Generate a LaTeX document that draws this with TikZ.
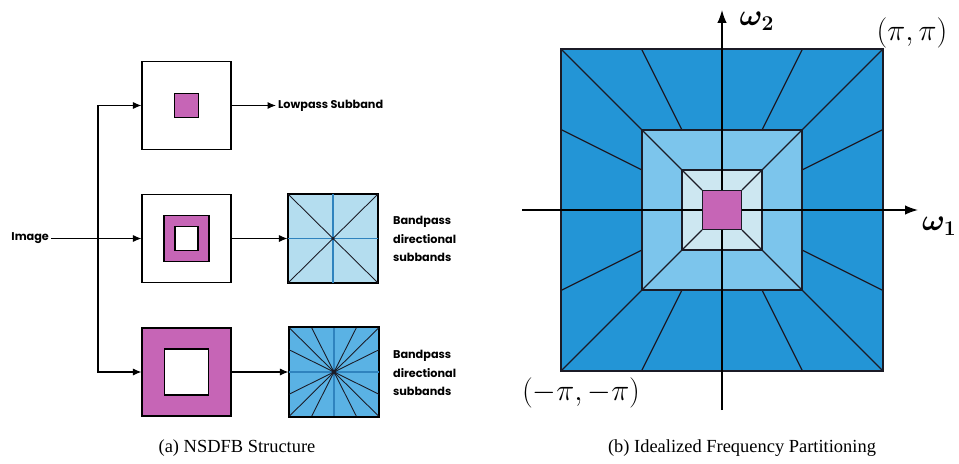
\documentclass[tikz,border=0pt]{standalone}
\usepackage{amsmath}
\usepackage{fontspec}
\setmainfont{Liberation Serif}
\newfontfamily\gothfont{Poppins}
\usetikzlibrary{positioning,arrows.meta}
\definecolor{passpink}{HTML}{C665B6}
\definecolor{outerblue}{HTML}{2395D6}
\definecolor{midblue}{HTML}{7CC5EC}
\definecolor{innerblue}{HTML}{CDE7F1}
\definecolor{dirlight}{HTML}{B4DDEF}
\definecolor{dirdeep}{HTML}{5AB2E4}
\definecolor{axisblue}{HTML}{2F83BE}
\definecolor{inkline}{HTML}{1B1B26}
\tikzset{
  flowarrow/.style={-{Latex[length=1.7mm,width=1.4mm]}, semithick},
  axisarrow/.style={-{Latex[length=2.6mm,width=1.9mm]}, thick},
  filtbox/.style={draw, semithick, minimum width=1.78cm, minimum height=1.76cm, inner sep=0pt},
  dirbox/.style={draw, semithick, minimum width=1.8cm, minimum height=1.78cm, inner sep=0pt},
  passband/.style={draw, semithick, fill=passpink, inner sep=0pt},
  hole/.style={draw, semithick, fill=white, inner sep=0pt},
  wedge/.style={inkline, line width=0.5pt},
  midaxis/.style={axisblue, line width=0.6pt},
  sublabel/.style={font=\gothfont\bfseries\fontsize{6.4}{10.6}\selectfont, align=left, inner sep=1pt},
  caption/.style={font=\fontsize{10.5}{12}\selectfont},
  axlabel/.style={font=\LARGE, inner sep=1pt}
}

\begin{document}
\begin{tikzpicture}[x=0.02cm, y=-0.02cm]
  \useasboundingbox (0,0) rectangle (959,463);
  % (a) filter bank
  \node[filtbox] (lowbox) at (186.5,105.5) {};
  \node[passband, minimum size=0.47cm] (lowsq) at (lowbox.center) {};
  \node[filtbox] (bandbox1) at (186.5,238.5) {};
  \node[passband, minimum width=0.9cm, minimum height=0.92cm] (ring1) at (bandbox1.center) {};
  \node[hole, minimum width=0.46cm, minimum height=0.48cm] (hole1) at (bandbox1.center) {};
  \node[filtbox, fill=passpink] (bandbox2) at (186.5,372) {};
  \node[hole, minimum width=0.88cm, minimum height=0.92cm] (hole2) at (bandbox2.center) {};

  \node[dirbox, fill=dirlight] (dir1) at (333,238.5) {};
  \node[dirbox, fill=dirdeep] (dir2) at (334,372) {};
  \draw[midaxis] (dir1.north) -- (dir1.south);
  \draw[midaxis] (dir1.west) -- (dir1.east);
  \foreach \dx/\dy in {1/1,1/-1,-1/1,-1/-1}
    \draw[wedge] (dir1.center) -- ++(\dx*45,\dy*44.5);
  \fill[inkline] (dir1.center) circle (1.6);
  \draw[midaxis] (dir2.north) -- (dir2.south);
  \draw[midaxis] (dir2.west) -- (dir2.east);
  \foreach \dx/\dy in {1/1,1/-1,-1/1,-1/-1,1/0.5,1/-0.5,-1/0.5,-1/-0.5,0.5/1,-0.5/1,0.5/-1,-0.5/-1}
    \draw[wedge] (dir2.center) -- ++(\dx*45,\dy*44.5);
  \fill[inkline] (dir2.center) circle (2.4);
  \draw[semithick] (dir1.north west) rectangle (dir1.south east);
  \draw[semithick] (dir2.north west) rectangle (dir2.south east);

  \node[sublabel, anchor=east] (imgtxt) at (51,238.5) {Image};
  \coordinate (split) at (98,238.5);
  \node[sublabel, anchor=west] (lowtxt) at (276,105.5) {Lowpass Subband};
  \node[sublabel, anchor=west] (bandtxt1) at (391,239) {Bandpass\\directional\\subbands};
  \node[sublabel, anchor=west] (bandtxt2) at (391,373) {Bandpass\\directional\\subbands};

  \draw[flowarrow] (imgtxt.east) -- (bandbox1.west);
  \draw[flowarrow] (split) |- (lowbox.west);
  \draw[flowarrow] (split) |- (bandbox2.west);
  \draw[flowarrow] (lowbox.east) -- (lowtxt.west);
  \draw[flowarrow] (bandbox1.east) -- (dir1.west);
  \draw[flowarrow] (bandbox2.east) -- (dir2.west);

  \node[caption] (capa) at (237,448) {(a) NSDFB Structure};

  % (b) frequency plane
  \begin{scope}[shift={(722,210)}]
    \fill[outerblue] (-161,-161) rectangle (161,161);
    \fill[midblue] (-80,-80) rectangle (80,80);
    \fill[innerblue] (-40,-40) rectangle (40,40);
    \foreach \dx/\dy in {1/1,1/-1,-1/1,-1/-1,1/0.5,1/-0.5,-1/0.5,-1/-0.5,0.5/1,-0.5/1,0.5/-1,-0.5/-1}
      \draw[wedge, line width=0.7pt] (\dx*80,\dy*80) -- (\dx*161,\dy*161);
    \foreach \dx/\dy in {1/1,1/-1,-1/1,-1/-1} {
      \draw[wedge, line width=0.7pt] (\dx*40,\dy*40) -- (\dx*80,\dy*80);
      \draw[wedge, line width=0.7pt] (\dx*20,\dy*20) -- (\dx*40,\dy*40);
    }
    \draw[inkline, thick] (-161,-161) rectangle (161,161);
    \draw[inkline, thick] (-80,-80) rectangle (80,80);
    \draw[inkline, thick] (-40,-40) rectangle (40,40);
    \draw[axisarrow] (-200,0) -- (196,0);
    \draw[axisarrow] (0,200) -- (0,-200);
    \node[passband, thick, draw=inkline, minimum size=0.78cm] (lowcell) at (0,0) {};
  \end{scope}
  \node[axlabel] (w2) at (757,21) {$\boldsymbol{\omega_2}$};
  \node[axlabel, anchor=west] (w1) at (920,226) {$\boldsymbol{\omega_1}$};
  \node[axlabel] (pipi) at (912,33) {$(\pi,\pi)$};
  \node[axlabel] (mpipi) at (581,393) {$(-\pi,-\pi)$};

  \node[caption] (capb) at (742,448) {(b) Idealized Frequency Partitioning};
\end{tikzpicture}
\end{document}
